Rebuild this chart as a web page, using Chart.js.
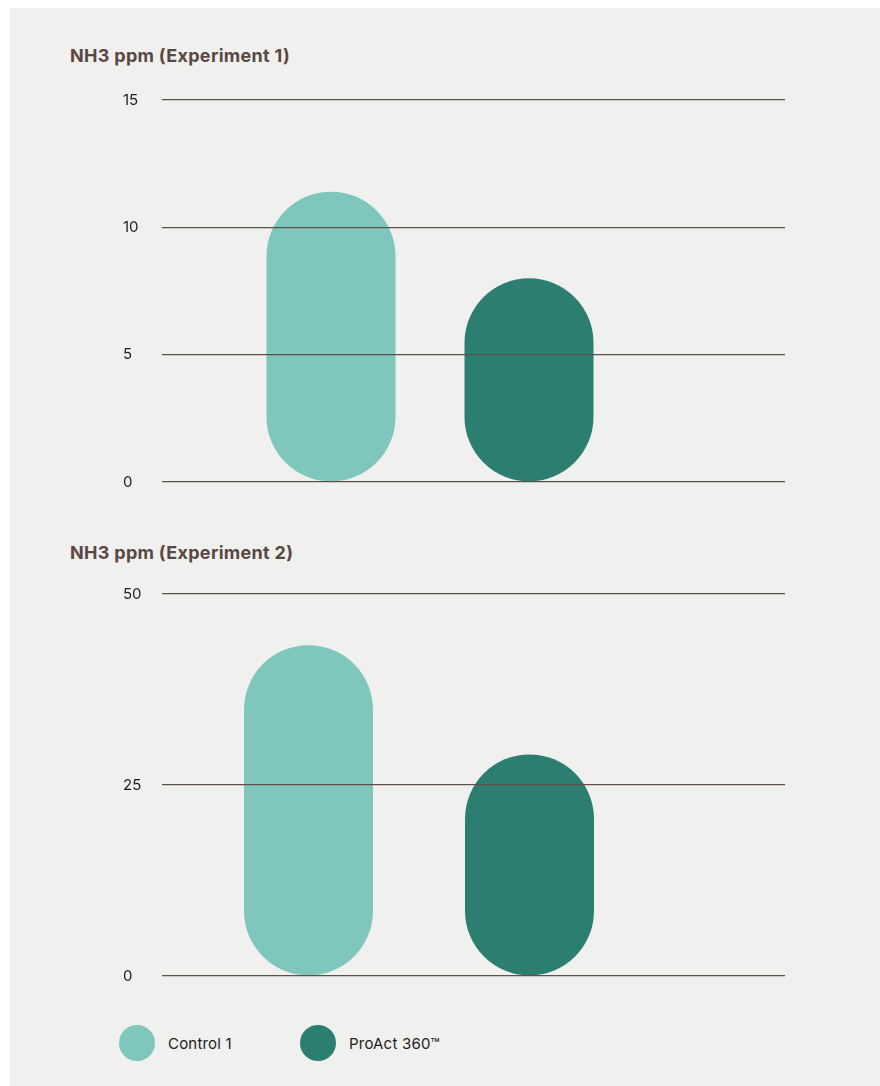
<!DOCTYPE html>
<html>
<head>
<meta charset="utf-8">
<script src="https://cdn.jsdelivr.net/npm/chart.js@4.4.1/dist/chart.umd.min.js"></script>
<style>
  html, body { margin: 0; padding: 0; background: #fff; }
  body { width: 880px; height: 1086px; position: relative; overflow: hidden; font-family: Inter, "DejaVu Sans", sans-serif; }
  .panel { position: absolute; left: 10px; top: 8px; width: 870px; height: 1078px; background: #f0f0ee; }
  .title { position: absolute; left: 70px; font-size: 18px; font-weight: 700; color: #5a4843; letter-spacing: 0.3px; }
  .chart-box { position: absolute; left: 0; width: 880px; height: 420px; }
  #legend { position: absolute; left: 119px; top: 1025px; display: flex; }
  .leg-item { display: flex; align-items: center; width: 181px; font-size: 15px; color: #1d1d1d; letter-spacing: 0.2px; }
  .leg-dot { width: 36px; height: 36px; border-radius: 50%; margin-right: 13px; }
</style>
</head>
<body>
<div class="panel"></div>

<div class="title" style="top:45px">NH3 ppm (Experiment 1)</div>
<div class="chart-box" style="top:81px"><canvas id="exp1"></canvas></div>

<div class="title" style="top:542px">NH3 ppm (Experiment 2)</div>
<div class="chart-box" style="top:576px"><canvas id="exp2"></canvas></div>

<div id="legend"></div>

<script>
// series
const categories = ['Control 1', 'ProAct 360™'];
const colors = ['#7fc6bd', '#2c7f70'];
const exp1Values = [11.4, 8.0];
const exp2Values = [43.3, 29];

// y axis ticks
const exp1Ticks = [0, 5, 10, 15];
const exp2Ticks = [0, 25, 50];

const gridColor = '#5e4f4a';

function makeChart(id, values, ticks, box) {
  const yMin = ticks[0];
  const yMax = ticks[ticks.length - 1];

  return new Chart(document.getElementById(id), {
    type: 'bar',
    data: {
      labels: categories,
      datasets: [{
        data: values,
        backgroundColor: colors,
        barThickness: 129,
        borderRadius: 999,
        borderSkipped: false,
        inflateAmount: 0
      }]
    },
    options: {
      responsive: false,
      maintainAspectRatio: false,
      animation: false,
      layout: { padding: { left: 123, right: 95, top: box.top, bottom: box.bottom } },
      plugins: { legend: { display: false }, tooltip: { enabled: false } },
      scales: {
        x: { type: 'category', offset: true, display: false },
        y: {
          position: 'left',
          min: yMin, max: yMax,
          afterBuildTicks: s => { s.ticks = ticks.map(v => ({ value: v })); },
          afterFit: s => { s.width = box.leftWidth; },
          grid: { color: gridColor, lineWidth: 1.2, z: 1, drawTicks: true, tickLength: box.leftTick },
          border: { display: false },
          ticks: {
            crossAlign: 'far',
            padding: 0,
            color: '#1d1d1d',
            font: { family: 'Inter', size: 15 }
          }
        },
        // mirror axis on the right, only used to run the grid lines further out
        yRight: {
          position: 'right',
          min: yMin, max: yMax,
          afterBuildTicks: s => { s.ticks = ticks.map(v => ({ value: v })); },
          afterFit: s => { s.width = box.rightWidth; },
          grid: { color: gridColor, lineWidth: 1.2, z: 1, drawOnChartArea: false, drawTicks: true, tickLength: box.rightWidth },
          border: { display: false },
          ticks: { display: false }
        }
      }
    }
  });
}

function sizeCanvas(id) {
  const c = document.getElementById(id);
  c.width = 880;
  c.height = 420;
  c.style.width = '880px';
  c.style.height = '420px';
}

sizeCanvas('exp1');
sizeCanvas('exp2');

makeChart('exp1', exp1Values, exp1Ticks, { top: 19, bottom: 19, leftWidth: 109, leftTick: 70, rightWidth: 157 });
makeChart('exp2', exp2Values, exp2Ticks, { top: 18, bottom: 20, leftWidth: 75, leftTick: 36, rightWidth: 145 });

// legend
const legend = document.getElementById('legend');
categories.forEach((name, i) => {
  const item = document.createElement('div');
  item.className = 'leg-item';
  item.innerHTML = `<span class="leg-dot" style="background:${colors[i]}"></span><span>${name}</span>`;
  legend.appendChild(item);
});
</script>
</body>
</html>
